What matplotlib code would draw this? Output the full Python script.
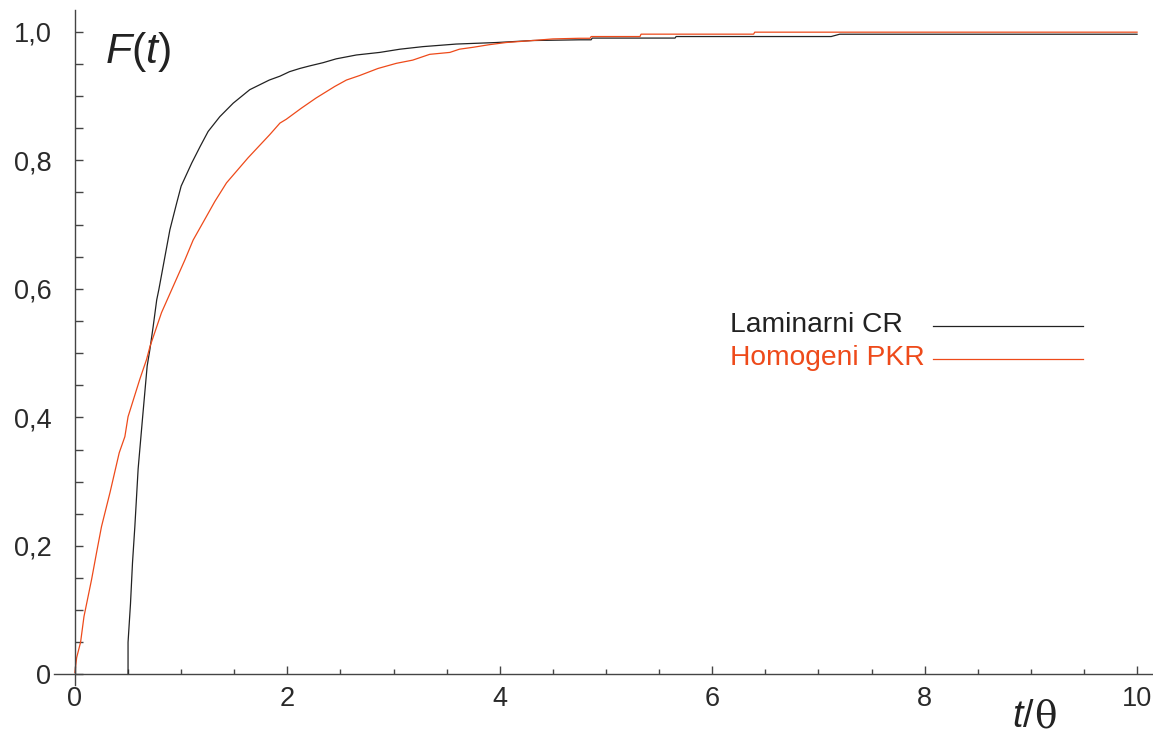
import matplotlib
matplotlib.use("Agg")
import matplotlib.pyplot as plt
from matplotlib.lines import Line2D
from matplotlib.ticker import MultipleLocator, FixedLocator

plt.rcParams['font.family'] = ['Liberation Sans', 'DejaVu Sans']
plt.rcParams['mathtext.fontset'] = 'custom'
plt.rcParams['mathtext.rm'] = 'Liberation Sans'
plt.rcParams['mathtext.it'] = 'Liberation Sans:italic'

# Laminarni CR (laminar flow reactor) cumulative distribution
lam_t = [0.50, 0.50, 0.523, 0.542, 0.564, 0.595, 0.637, 0.68, 0.705, 0.737, 0.77,
         0.79, 0.847, 0.894, 0.957, 1.0, 1.10, 1.18, 1.254, 1.364, 1.49, 1.646,
         1.83, 1.93, 2.02, 2.117, 2.21, 2.336, 2.46, 2.65, 2.87, 3.06, 3.277,
         3.59, 3.97, 4.31, 4.75, 4.86, 4.87, 5.65, 5.66, 7.12, 7.20, 10.0]
lam_F = [0.0, 0.05, 0.11, 0.174, 0.23, 0.32, 0.40, 0.48, 0.505, 0.542, 0.583,
         0.599, 0.65, 0.692, 0.733, 0.76, 0.796, 0.822, 0.845, 0.868, 0.889, 0.91,
         0.925, 0.931, 0.938, 0.943, 0.947, 0.952, 0.958, 0.964, 0.968, 0.973, 0.977,
         0.981, 0.9834, 0.9865, 0.9876, 0.9876, 0.9903, 0.9903, 0.9927, 0.9927, 0.9963, 0.9963]

# Homogeni PKR (ideal stirred tank) cumulative distribution
hom_t = [0.0, 0.016, 0.053, 0.085, 0.157, 0.204, 0.25, 0.33, 0.417, 0.47, 0.50,
         0.61, 0.674, 0.706, 0.815, 0.925, 1.035, 1.113, 1.239, 1.317, 1.427,
         1.63, 1.834, 1.93, 1.99, 2.13, 2.27, 2.446, 2.556, 2.68, 2.853, 3.026,
         3.18, 3.34, 3.53, 3.62, 3.75, 3.90, 4.06, 4.31, 4.50, 4.75, 4.85, 4.86,
         5.32, 5.33, 6.39, 6.40, 10.0]
hom_F = [0.003, 0.026, 0.05, 0.09, 0.148, 0.19, 0.23, 0.283, 0.345, 0.37, 0.401,
         0.459, 0.49, 0.51, 0.563, 0.604, 0.645, 0.676, 0.713, 0.736, 0.765,
         0.804, 0.84, 0.858, 0.864, 0.881, 0.897, 0.915, 0.925, 0.932, 0.943, 0.951,
         0.956, 0.965, 0.968, 0.973, 0.976, 0.980, 0.9834, 0.9865, 0.989, 0.990, 0.990, 0.9927,
         0.9927, 0.9964, 0.9964, 0.9995, 0.9995]

series_labels = ["Laminarni CR", "Homogeni PKR"]
series_colors = ["#222222", "#EE4A1A"]

x_ticks = [0, 2, 4, 6, 8, 10]
x_ticklabels = ["0", "2", "4", "6", "8", "10"]
y_ticks = [0, 0.2, 0.4, 0.6, 0.8, 1.0]
y_ticklabels = ["0", "0,2", "0,4", "0,6", "0,8", "1,0"]

W, H = 1153, 737
fig = plt.figure(figsize=(W / 100, H / 100), dpi=100)
ax = fig.add_axes([53.7 / W, 52 / H, 1 - 53.7 / W, (685 - 10) / H])

ax.plot(lam_t, lam_F, color=series_colors[0], lw=0.9, label=series_labels[0])
ax.plot(hom_t, hom_F, color=series_colors[1], lw=0.9, label=series_labels[1])

ax.set_xlim(-0.2, 10.15)
ax.set_ylim(-0.0165, 1.034)

for s in ['top', 'right']:
    ax.spines[s].set_visible(False)
ax.spines['left'].set_position(('data', 0))
ax.spines['bottom'].set_position(('data', 0))
for s in ['left', 'bottom']:
    ax.spines[s].set_color('#444444')
    ax.spines[s].set_linewidth(1.0)

ax.xaxis.set_major_locator(FixedLocator(x_ticks))
ax.set_xticklabels(x_ticklabels)
ax.xaxis.set_minor_locator(MultipleLocator(0.5))
ax.yaxis.set_major_locator(FixedLocator(y_ticks))
ax.set_yticklabels(y_ticklabels)
ax.yaxis.set_minor_locator(MultipleLocator(0.05))

ax.tick_params(axis='both', which='both', direction='in', color='#444444',
               labelsize=19.5, labelcolor='#2a2a2a', width=1.0)
ax.tick_params(axis='x', which='major', length=6, pad=8)
ax.tick_params(axis='x', which='minor', length=3.5)
ax.tick_params(axis='y', which='major', length=6, pad=17)
ax.tick_params(axis='y', which='minor', length=5.5)

# Axis titles
ax.text(0.28, 0.968, r'$\mathit{F}\mathrm{(}\mathit{t}\mathrm{)}$', fontsize=31,
        color='#222222', ha='left', va='center')
fig.text(1035 / W, 10 / H, r'$\mathit{t}$/', fontsize=27, color='#222222',
         ha='right', va='baseline')
fig.text(1034 / W, 10 / H, '\u03b8', fontsize=27, color='#222222',
         ha='left', va='baseline', family='DejaVu Serif')

# Legend (label text followed by a line sample)
legend_text_y = [325, 358]
legend_line_y = [326, 359]
for lab, c, ty, ly in zip(series_labels, series_colors, legend_text_y, legend_line_y):
    fig.text(730 / W, 1 - ty / H, lab, fontsize=20.3, color=c, ha='left', va='center')
    fig.add_artist(Line2D([933 / W, 1083 / W], [1 - ly / H, 1 - ly / H],
                          transform=fig.transFigure, color=c, lw=0.9))

fig.savefig("out.png", dpi=100)
